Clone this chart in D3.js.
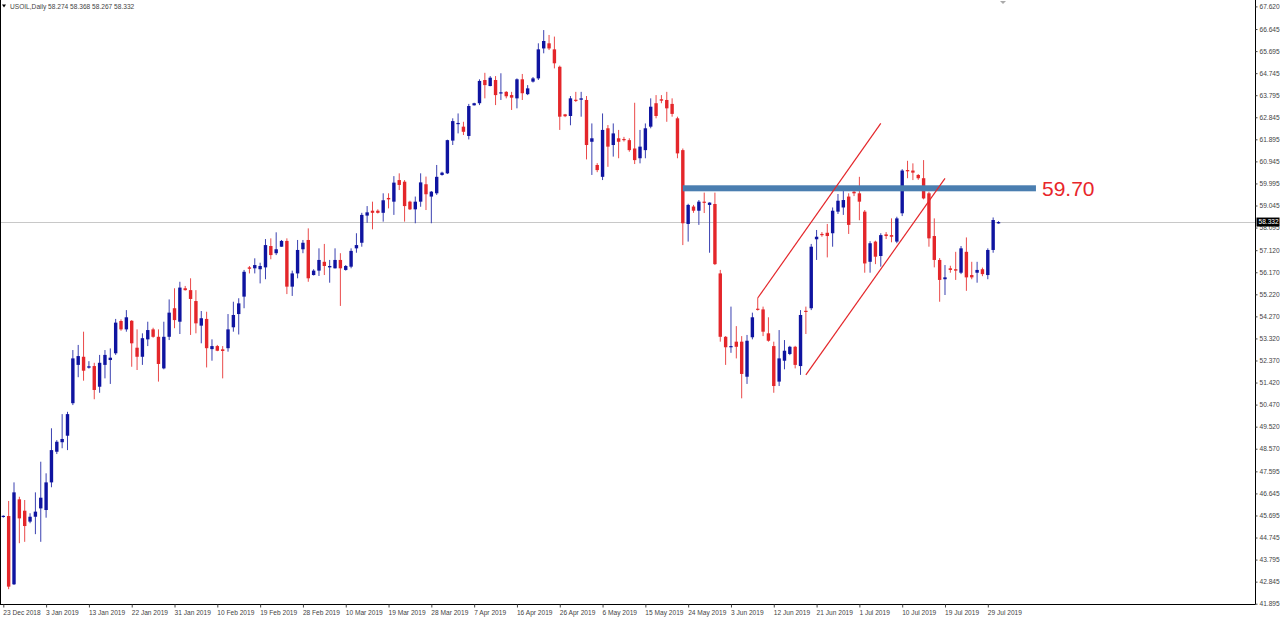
<!DOCTYPE html>
<html><head><meta charset="utf-8">
<script src="https://cdn.jsdelivr.net/npm/d3@7"></script>
<style>
html,body{margin:0;padding:0;background:#fff;overflow:hidden;}
svg{display:block;font-family:"Liberation Sans",Arial,sans-serif;}
</style></head><body>
<svg id="chart" width="1280" height="617"></svg>
<script>
// ---------------- data ----------------
const symbolName = "USOIL,Daily";
const lastQuote = ["58.274", "58.368", "58.267", "58.332"];
const lastPrice = 58.332;

const opens = [45.66,45.67,42.73,46.39,45.90,45.43,45.64,46.00,45.93,47.12,48.44,48.85,49.13,50.53,52.18,52.53,52.06,52.13,51.24,52.18,52.39,52.68,54.07,53.71,54.08,52.92,52.53,53.28,53.71,53.39,52.03,53.39,54.62,54.04,55.48,55.40,54.93,53.87,54.16,52.86,52.99,52.85,52.90,53.80,54.37,55.12,56.38,56.34,56.30,56.38,57.30,56.99,57.27,57.52,55.55,56.12,57.16,57.56,56.05,56.24,56.62,56.38,56.34,56.70,56.27,56.41,57.20,57.44,58.61,58.82,58.82,58.73,59.37,59.21,60.14,60.07,59.21,58.88,59.21,59.96,59.43,59.57,60.36,60.43,61.84,62.57,62.44,62.04,63.36,63.45,64.45,64.19,64.45,63.89,63.94,63.80,63.66,64.48,63.84,64.38,64.52,65.81,66.03,65.77,65.02,62.97,62.90,63.60,63.60,63.59,61.79,60.79,60.28,62.37,61.65,61.94,61.91,61.86,61.50,61.08,61.43,62.44,63.45,63.62,63.59,63.42,62.80,61.43,58.25,59.00,58.82,59.21,59.07,59.11,56.12,53.39,52.94,53.18,53.18,51.67,53.37,54.60,54.57,53.54,52.99,51.46,52.36,52.65,52.96,52.13,54.51,54.62,57.59,57.82,57.87,57.85,58.78,58.96,59.43,59.64,59.57,58.78,56.62,57.49,56.87,57.80,57.77,57.49,58.71,60.57,60.55,60.36,60.22,59.57,57.73,56.70,55.87,56.34,56.30,56.15,57.05,56.05,56.15,56.30,56.05,57.13,58.274];
const highs = [45.70,46.32,47.12,46.50,46.36,45.79,46.69,48.01,47.51,49.45,48.94,50.06,50.16,52.82,53.04,53.61,52.34,52.27,52.61,52.82,52.89,54.16,54.14,54.54,54.11,53.71,53.54,54.04,53.78,53.71,54.04,55.00,55.48,55.76,55.58,55.91,55.40,54.50,54.47,53.28,53.04,52.99,54.37,54.90,55.05,56.27,56.44,56.77,56.58,57.60,57.63,57.89,57.56,57.63,56.24,57.56,57.56,58.06,56.30,57.20,57.39,56.70,57.20,56.99,56.48,57.20,57.85,58.73,59.02,59.21,58.88,59.57,59.57,60.31,60.43,60.14,59.25,59.43,60.43,60.29,59.67,60.79,60.50,61.88,62.80,63.01,62.65,63.42,63.47,64.48,64.76,64.62,64.62,64.74,63.97,63.94,64.52,64.71,64.23,64.58,66.03,66.60,66.39,66.32,65.07,62.99,63.76,63.94,63.94,63.76,62.58,60.87,63.01,62.51,62.58,62.30,62.00,61.94,63.47,62.30,62.58,63.66,63.80,63.80,63.94,63.66,62.87,61.50,59.12,59.07,59.28,59.60,59.18,59.60,56.27,53.42,54.69,53.85,53.42,53.47,54.43,55.06,54.69,54.23,53.18,53.68,53.25,53.00,53.00,54.54,54.69,57.39,57.99,57.90,58.25,58.96,59.54,59.71,59.57,59.80,60.28,58.85,57.51,57.53,57.85,57.90,58.49,58.56,60.61,60.97,60.86,60.40,61.00,59.64,58.49,56.78,56.48,56.45,57.05,57.30,57.67,56.62,56.62,56.37,57.20,58.53,58.368];
const lows = [45.60,42.52,42.70,44.50,44.56,45.36,44.89,44.56,45.60,46.91,48.34,48.59,48.51,50.45,51.65,51.50,52.02,50.70,50.98,51.60,51.36,52.61,53.65,53.61,52.10,51.96,52.18,52.99,53.35,51.46,51.99,53.25,53.76,53.51,55.38,53.47,53.54,53.11,52.07,52.36,52.77,51.60,52.75,53.61,53.49,54.62,56.12,56.12,55.69,55.87,56.73,56.91,57.27,55.23,55.15,55.91,56.99,55.76,56.03,56.01,56.05,55.72,56.33,54.72,56.24,56.34,57.01,57.27,58.30,58.02,58.70,58.35,58.92,58.64,59.71,58.35,58.85,58.28,58.99,58.85,58.28,59.50,60.33,60.40,61.65,62.15,62.08,61.89,63.35,63.37,63.66,64.18,63.37,63.59,63.66,63.16,63.23,63.59,63.80,64.34,64.45,65.60,65.74,64.95,62.30,62.85,62.50,63.50,62.87,61.03,60.36,60.48,60.14,60.71,61.15,61.08,61.80,61.36,60.83,60.86,61.08,62.37,62.80,63.45,62.65,62.87,61.08,57.34,57.49,58.73,58.21,58.72,57.01,56.48,53.18,52.18,52.70,52.46,50.74,51.36,53.28,54.52,53.42,53.18,50.98,51.27,51.99,52.60,52.03,51.75,53.51,54.54,56.70,57.70,56.81,57.27,58.68,58.64,57.82,59.45,58.41,56.15,56.15,56.52,56.41,57.60,57.46,57.42,58.59,60.22,60.14,60.15,59.31,57.27,56.38,54.90,55.19,56.15,55.84,56.09,55.37,55.87,55.72,56.00,55.87,57.01,58.267];
const closes = [45.68,42.63,46.69,45.57,45.24,45.64,45.86,46.46,47.12,48.51,48.87,48.99,50.06,52.46,52.56,51.93,52.12,51.10,52.27,52.61,52.49,54.00,53.71,54.23,53.11,52.53,53.33,53.68,53.39,52.22,53.39,54.43,54.11,55.51,55.40,55.02,53.97,54.19,52.90,52.99,52.79,52.78,53.71,54.33,54.83,56.19,56.32,56.48,56.44,57.34,56.91,57.16,57.52,55.55,56.12,57.13,57.44,55.91,56.24,56.70,56.44,56.44,56.70,56.34,56.44,57.09,57.34,58.64,58.75,58.73,58.73,59.27,59.31,60.03,59.93,59.02,58.88,59.21,60.04,59.53,59.64,60.28,60.46,61.86,62.68,62.60,62.22,63.33,63.45,64.41,64.23,64.55,63.80,63.92,63.75,63.69,64.48,63.88,64.09,64.52,65.77,66.13,65.81,65.17,62.87,62.89,63.66,63.55,63.66,61.65,61.94,60.57,62.30,61.58,62.15,61.79,61.86,61.43,61.00,61.58,62.37,63.30,62.90,63.56,63.23,62.99,61.29,58.28,59.07,58.82,59.21,59.17,59.17,56.52,53.39,52.94,52.99,52.96,51.79,53.22,54.23,54.57,53.61,53.22,51.27,52.46,52.79,52.96,52.18,54.33,54.46,57.27,57.70,57.80,57.73,58.82,59.25,59.28,58.21,59.57,59.21,56.55,57.42,56.84,57.77,57.73,57.70,58.49,60.55,60.52,60.46,60.22,59.35,57.63,56.70,55.84,55.95,56.27,56.24,57.20,55.95,55.95,56.27,56.09,57.13,58.42,58.332];

const dateLabels = ["23 Dec 2018","3 Jan 2019","13 Jan 2019","22 Jan 2019","31 Jan 2019","10 Feb 2019","19 Feb 2019","28 Feb 2019","10 Mar 2019","19 Mar 2019","28 Mar 2019","7 Apr 2019","16 Apr 2019","26 Apr 2019","6 May 2019","15 May 2019","24 May 2019","3 Jun 2019","12 Jun 2019","21 Jun 2019","1 Jul 2019","10 Jul 2019","19 Jul 2019","29 Jul 2019"];
const barsPerLabel = 8;
const priceTicks = [67.620,66.645,65.695,64.745,63.795,62.845,61.895,60.945,59.995,59.045,58.095,57.120,56.170,55.220,54.270,53.320,52.370,51.420,50.470,49.520,48.570,47.595,46.645,45.695,44.745,43.795,42.845,41.895];

const levelPrice = 59.70;
const levelLabel = "59.70";
const levelBars = [127, 193];
const channelUpper = [[141, 55.06], [164, 62.58]];
const channelLower = [[150, 51.75], [176, 60.21]];

// ---------------- drawing ----------------
const W = 1280, H = 617;
const plotRight = 1255.5, plotBottom = 604.5;
const svg = d3.select("#chart");

const x = d3.scaleLinear().domain([0, opens.length - 1]).range([3.3, 998.5]);
const y = d3.scaleLinear().domain([41.895, 67.620]).range([603.7, 6.4]);

const bars = opens.map((o, i) => ({i, o, h: highs[i], l: lows[i], c: closes[i]}));
const upCol = "#0f14a0", dnCol = "#e4262a";
const upWick = "#3a40b0", dnWick = "#ea4a4a";

// current price line
svg.append("line").attr("x1", 0).attr("x2", plotRight)
  .attr("y1", Math.round(y(lastPrice)) + 0.5).attr("y2", Math.round(y(lastPrice)) + 0.5)
  .attr("stroke", "#c8c8c8").attr("stroke-width", 1);

// candles
const g = svg.append("g");
g.selectAll("line.wick").data(bars).join("line").attr("class", "wick")
  .attr("x1", d => x(d.i)).attr("x2", d => x(d.i))
  .attr("y1", d => y(d.h)).attr("y2", d => y(d.l))
  .attr("stroke", d => d.c >= d.o ? upWick : dnWick).attr("stroke-width", 1);
const bw = 3.4;
g.selectAll("rect.body").data(bars).join("rect").attr("class", "body")
  .attr("x", d => x(d.i) - bw / 2).attr("width", bw)
  .attr("y", d => y(Math.max(d.o, d.c)))
  .attr("height", d => Math.max(1.2, Math.abs(y(d.o) - y(d.c))))
  .attr("fill", d => d.c >= d.o ? upCol : dnCol);

// level band
svg.append("rect")
  .attr("x", x(levelBars[0])).attr("width", x(levelBars[1]) - x(levelBars[0]))
  .attr("y", y(levelPrice) - 5).attr("height", 6)
  .attr("fill", "#4a7eb0");
svg.append("text").attr("x", x(levelBars[1]) + 6).attr("y", y(levelPrice) + 6)
  .attr("font-size", 21).attr("fill", "#e8262a").text(levelLabel);

// channel lines
const ln = d3.line().x(d => x(d[0])).y(d => y(d[1]));
[channelUpper, channelLower].forEach(c =>
  svg.append("path").attr("d", ln(c)).attr("fill", "none")
    .attr("stroke", "#e4262a").attr("stroke-width", 1.2));

// frame
svg.append("line").attr("x1", 0.5).attr("x2", 0.5).attr("y1", 0).attr("y2", plotBottom).attr("stroke", "#000");
svg.append("line").attr("x1", 0).attr("x2", plotRight).attr("y1", plotBottom).attr("y2", plotBottom).attr("stroke", "#000");

// right axis
const yAxis = d3.axisRight(y).tickValues(priceTicks).tickFormat(d3.format(".3f")).tickSize(2).tickPadding(2);
const ya = svg.append("g").attr("transform", `translate(${plotRight},0)`).call(yAxis);
ya.select(".domain").attr("d", `M0,0V${plotBottom}`).attr("stroke", "#000");
ya.selectAll("text").attr("font-size", 6.6).attr("fill", "#444").attr("font-family", "Liberation Sans, Arial");
ya.selectAll(".tick line").attr("stroke", "#444");

// current price tag
const tagY = y(lastPrice);
svg.append("rect").attr("x", plotRight + 1).attr("y", tagY - 4.5).attr("width", 23).attr("height", 9).attr("fill", "#000");
svg.append("text").attr("x", plotRight + 3).attr("y", tagY + 2.4).attr("font-size", 6.6).attr("fill", "#fff").text(lastPrice.toFixed(3));

// bottom axis
const labelIdx = dateLabels.map((_, k) => k * barsPerLabel);
const xAxis = d3.axisBottom(x).tickValues(labelIdx).tickFormat((d, k) => dateLabels[k]).tickSize(3).tickPadding(3);
const xa = svg.append("g").attr("transform", `translate(0,${plotBottom})`).call(xAxis);
xa.select(".domain").remove();
xa.selectAll("text").attr("text-anchor", "start").attr("font-size", 6.6).attr("fill", "#444").attr("dx", -0.5);
xa.selectAll(".tick line").attr("stroke", "#444");

// title
svg.append("path").attr("d", "M2,4.5L6,4.5L4,7.5Z").attr("fill", "#000");
svg.append("text").attr("x", 10).attr("y", 8.5).attr("font-size", 6.6).attr("fill", "#444")
  .text(symbolName + "  " + lastQuote.join(" "));
// chart shift marker
svg.append("path").attr("d", "M1000,1L1006,1L1003,4Z").attr("fill", "#aaa");
</script>
</body></html>
